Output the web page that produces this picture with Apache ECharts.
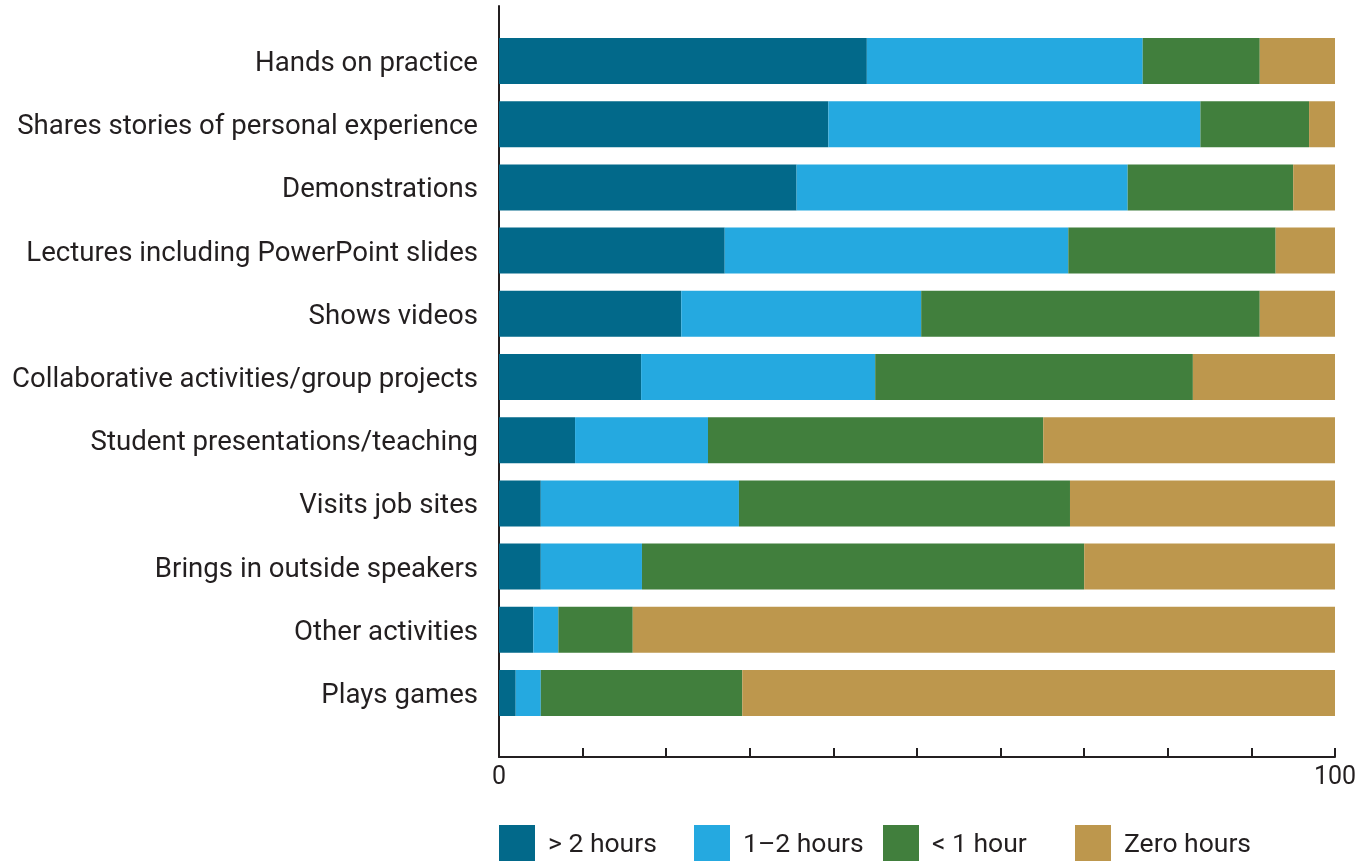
<!DOCTYPE html>
<html><head><meta charset="utf-8">
<script src="https://cdn.jsdelivr.net/npm/echarts@6/dist/echarts.min.js"></script>
<style>html,body{margin:0;padding:0;background:#fff}#c{width:1369px;height:861px}</style>
</head><body><div id="c"></div>
<script>
const categories = ["Hands on practice","Shares stories of personal experience","Demonstrations","Lectures including PowerPoint slides","Shows videos","Collaborative activities/group projects","Student presentations/teaching","Visits job sites","Brings in outside speakers","Other activities","Plays games"];
const seriesNames = ["> 2 hours","1\u20132 hours","< 1 hour","Zero hours"];
const over2 = [44, 39.4, 35.6, 27, 21.8, 17, 9.1, 5, 5, 4.1, 2];
const oneToTwo = [33, 44.5, 39.6, 41.1, 28.7, 28, 15.9, 23.7, 12.1, 3, 3];
const under1 = [14, 13, 19.8, 24.8, 40.5, 38, 40.1, 39.6, 52.9, 8.9, 24.1];
const zero = [9, 3.1, 5, 7.1, 9, 17, 34.9, 31.7, 30, 84, 70.9];
const colors = ["#02698a","#25a9e0","#417f3d","#bd974d"];
const xTicks = [0, 100];

const font = "Roboto, 'Noto Sans', sans-serif";
const dark = "#231f20";
const vals = [over2, oneToTwo, under1, zero];
const legendLefts = [499, 694, 883, 1075];

const chart = echarts.init(document.getElementById('c'), null, {renderer:'canvas'});
chart.setOption({
  animation:false,
  textStyle:{fontFamily:font},
  grid:[
    {left:499, right:34, top:29.4, bottom:136.4, containLabel:false},
    {left:499, right:34, top:6, bottom:104, containLabel:false}
  ],
  legend: seriesNames.map((n,i)=>({
    data:[n], left:legendLefts[i], top:825, itemWidth:36, itemHeight:36, itemGap:0,
    icon:'rect', padding:0, selectedMode:false,
    formatter: name => '{t|' + name + '}',
    textStyle:{color:dark, fontFamily:font,
      rich:{t:{fontSize:26.5, color:dark, fontFamily:font, padding:[5,0,0,8]}}}
  })),
  xAxis:[
    {gridIndex:0, type:'value', min:0, max:100, show:false},
    {gridIndex:1, type:'value', min:0, max:100, interval:10,
      axisLine:{show:true, lineStyle:{color:dark, width:2}},
      axisTick:{show:true, inside:true, length:9, lineStyle:{color:dark, width:2}},
      splitLine:{show:false},
      axisLabel:{fontSize:25, color:dark, margin:8, fontFamily:font,
        formatter:v=> xTicks.includes(v) ? String(v) : ''}
    }
  ],
  yAxis:[
    {gridIndex:0, type:'category', data:categories, inverse:true,
      axisLine:{show:false}, axisTick:{show:false},
      axisLabel:{color:dark, margin:21, fontFamily:font,
        formatter: v => '{c|' + v + '}',
        rich:{c:{fontSize:27.6, color:dark, fontFamily:font, padding:[6,0,0,0]}}}},
    {gridIndex:1, type:'value', min:0, max:1,
      axisLine:{show:true, lineStyle:{color:dark, width:2}},
      axisTick:{show:false}, axisLabel:{show:false}, splitLine:{show:false}}
  ],
  series: seriesNames.map((n,i)=>({
    name:n, type:'bar', stack:'t', xAxisIndex:0, yAxisIndex:0,
    barWidth:46, data:vals[i], itemStyle:{color:colors[i]}, silent:true
  })),
  color:colors
});
</script></body></html>
